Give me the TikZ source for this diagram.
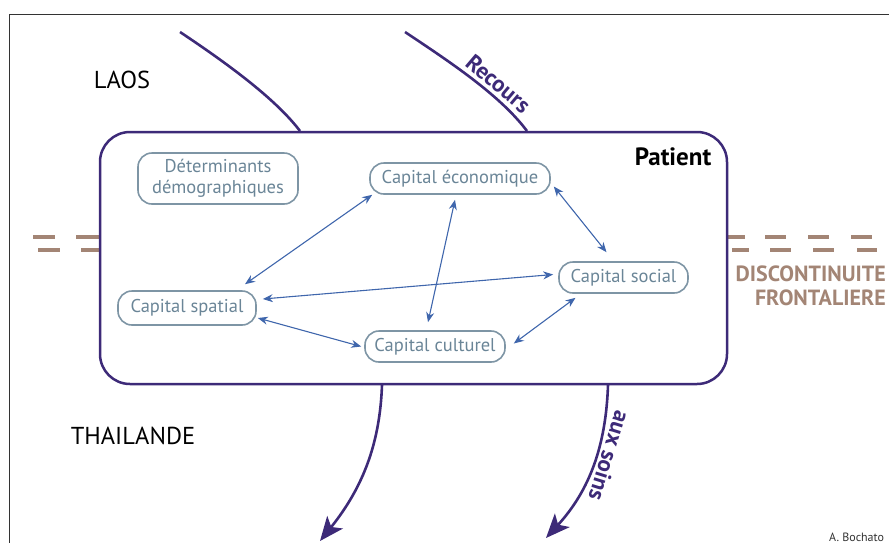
\documentclass[tikz,border=0pt]{standalone}
\usepackage{fontspec}
\setmainfont{PT Sans}
\usetikzlibrary{arrows.meta,calc}
\definecolor{pur}{HTML}{3D2A78}
\definecolor{arrblue}{HTML}{3F66AC}
\definecolor{nodeborder}{HTML}{7E95A5}
\definecolor{nodetext}{HTML}{6A8597}
\definecolor{brownish}{HTML}{A38575}
\definecolor{framecol}{HTML}{333333}
\tikzset{
  capnode/.style={draw=nodeborder, line width=1.6pt, text=nodetext, rounded corners=14pt,
    font=\fontsize{18.5}{20.5}\selectfont, inner sep=0pt, align=center},
  linkarrow/.style={draw=arrblue, line width=1.1pt, {Stealth[length=10pt,width=8pt]}-{Stealth[length=10pt,width=8pt]}},
  flow/.style={draw=pur, line width=2.6pt},
  flowarrow/.style={flow, -{Stealth[length=24pt,width=20pt,inset=6pt]}},
  dashline/.style={draw=brownish, line width=4.5pt},
  country/.style={font=\fontsize{24.5}{28}\selectfont, text=black},
  flowlabel/.style={font=\bfseries\fontsize{23}{26}\selectfont, text=pur, inner sep=0pt}
}
\begin{document}
\begin{tikzpicture}[x=1pt,y=-1pt]
\useasboundingbox (0,0) rectangle (889,542);
% outer frame
\draw[framecol, line width=1.4pt] (9.5,560) |- (900,14.5);
% dashed border marks
\foreach \a/\b in {33/55,76/99} \draw[dashline] (\a,237) -- (\b,237);
\foreach \a/\b in {38/60,81/99} \draw[dashline] (\a,250) -- (\b,250);
\foreach \a/\b in {728/745,765/786,808/829,851/872} \draw[dashline] (\a,237) -- (\b,237);
\foreach \a/\b in {732/749,770/791,813/834,857/877} \draw[dashline] (\a,250) -- (\b,250);
% patient box
\node[draw=pur, line width=2.5pt, rounded corners=30pt, minimum width=627pt, minimum height=252pt, inner sep=0pt] (box) at (413.5,258) {};
% flows
\coordinate (f1s) at (180,32);
\coordinate (f1e) at (300,131);
\coordinate (f2s) at (405,32);
\coordinate (f2e) at (527,131);
\coordinate (f3s) at (382,385);
\coordinate (f3e) at (320,541);
\coordinate (f4s) at (608,385);
\coordinate (f4e) at (546,538);
\draw[flow] (f1s) .. controls (225,62) and (275,98) .. (f1e);
\draw[flow] (f2s) .. controls (450,62) and (500,95) .. (f2e)
  node[flowlabel, pos=0.64, sloped, above=3pt] (recours) {Recours};
\draw[flowarrow] (f3s) .. controls (380,440) and (365,485) .. (f3e);
\draw[flowarrow] (f4s) .. controls (606,445) and (590,490) .. (f4e)
  node[flowlabel, pos=0.41, sloped, allow upside down, above=3pt] (soins) {aux soins};
% country labels
\node[country] (laos) at (122,80) {LAOS};
\node[country] (thai) at (133,436) {THAILANDE};
\node[font=\bfseries\fontsize{25}{28}\selectfont, text=black] (patient) at (673,157) {Patient};
\node[font=\bfseries\fontsize{22}{24}\selectfont, text=brownish, align=right, anchor=east, inner sep=0pt] (disc) at (886,286) {DISCONTINUITE\\FRONTALIERE};
\node[font=\fontsize{12}{14}\selectfont, text=framecol, anchor=north west, inner sep=0pt] (auth) at (829,533) {A. Bochato};
% capital nodes
\node[capnode, minimum width=160pt, minimum height=51pt] (dd) at (218,178.5) {Déterminants\\démographiques};
\node[capnode, minimum width=180pt, minimum height=31pt] (eco) at (460,178.5) {Capital économique};
\node[capnode, minimum width=138pt, minimum height=34pt] (sp) at (187,308) {Capital spatial};
\node[capnode, minimum width=129pt, minimum height=31pt] (so) at (623.5,277.5) {Capital social};
\node[capnode, minimum width=140pt, minimum height=31pt] (cu) at (435,346.5) {Capital culturel};
% links
\draw[linkarrow] ([xshift=58pt,yshift=6pt]sp.north) -- ([xshift=3pt]eco.south west);
\draw[linkarrow] ([xshift=6pt,yshift=9pt]sp.east) -- ([xshift=-5pt,yshift=3pt]so.west);
\draw[linkarrow] ([xshift=1pt,yshift=-10pt]sp.east) -- ([xshift=-3pt]cu.west);
\draw[linkarrow] ([xshift=-7pt,yshift=8pt]cu.north) -- ([xshift=-5pt,yshift=-5pt]eco.south);
\draw[linkarrow] ([xshift=3pt,yshift=-8pt]eco.east) -- ([xshift=-17pt,yshift=9pt]so.north);
\draw[linkarrow] ([xshift=8pt,yshift=3pt]cu.east) -- ([xshift=-48pt,yshift=-4pt]so.south);
\end{tikzpicture}
\end{document}
